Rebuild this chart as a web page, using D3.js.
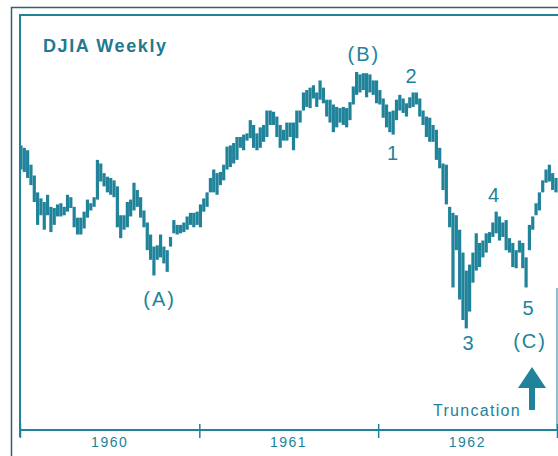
<!DOCTYPE html>
<html>
<head>
<meta charset="utf-8">
<script src="https://cdn.jsdelivr.net/npm/d3@7"></script>
<style>
body { margin: 0; background: #fff; }
svg { display: block; }
</style>
</head>
<body>
<div id="content"></div>
<script>
const w = 558
const h = 456

// weekly DJIA high / low (points)
const highs = [674,672,670,658,649,635,630,627,633,623,622,625,626,623,633,631,623,614,614,619,
  629,626,631,662,659,651,648,647,645,640,616,616,627,629,643,637,631,620,610,600,
  590,591,600,590,587,598,612,608,608,610,615,618,618,619,625,630,635,647,654,651,
  652,658,673,674,676,681,681,683,684,695,691,684,689,691,703,703,702,698,691,687,
  693,693,693,703,703,718,720,722,724,718,728,722,712,712,708,706,705,706,705,710,
  723,735,733,734,734,733,728,728,720,713,708,702,703,712,716,713,709,714,718,718,
  713,703,698,697,691,687,672,659,658,623,618,616,604,585,570,575,585,601,593,595,
  601,602,610,619,615,610,612,597,593,587,595,593,581,608,615,626,635,645,654,658,
  651,647]
const lows = [654,652,647,641,627,608,616,604,616,602,608,615,615,616,619,622,606,600,600,605,
  614,620,623,629,644,640,635,633,631,606,597,604,606,615,620,623,614,606,587,579,
  566,579,581,576,569,590,601,600,601,602,604,608,606,608,606,619,623,635,635,633,
  641,645,654,656,659,662,672,670,678,680,672,670,672,677,681,691,691,681,672,678,
  678,681,670,680,693,703,706,705,713,706,712,709,698,693,685,689,693,691,689,695,
  708,716,718,720,714,718,716,709,708,697,689,685,683,695,703,701,698,705,706,708,
  698,691,681,677,677,662,655,637,625,606,556,587,546,529,522,536,560,570,573,581,
  585,593,598,601,595,598,587,585,573,572,585,572,556,587,604,616,620,635,643,644,
  637,635]

const years = ["1960", "1961", "1962"]
const yearEdges = [1960, 1961, 1962, 1963]

// wave count labels: week index and price level of the label baseline
const waveLabels = ["(A)", "(B)", "1", "2", "3", "4", "5", "(C)"]
const waveWeeks = [41.7, 103.2, 112.1, 117.7, 134.8, 142.5, 152.9, 153.2]
const waveLevels = [541, 744, 662, 726, 504, 627, 533, 506]

const teal = "#21839a"
const font = "'Liberation Sans', Arial, Helvetica, sans-serif"

let svg = d3.select("#content")
  .append("svg")
  .attr("width", w)
  .attr("height", h)

// frame
svg.append("path")
  .attr("d", "M11.5," + h + "V7.5H" + w)
  .attr("fill", "none")
  .attr("stroke", "#345f69")
  .attr("stroke-width", 1.5)
svg.append("path")
  .attr("d", "M20,437V15H" + w)
  .attr("fill", "none")
  .attr("stroke", teal)
  .attr("stroke-width", 2)
svg.append("line")
  .attr("x1", 557).attr("x2", 557)
  .attr("y1", 288).attr("y2", 430)
  .attr("stroke", teal)
  .attr("stroke-width", 1)

x = d3.scaleLinear()
  .domain([0, highs.length - 1])
  .range([21, 556])
y = d3.scaleLinear()
  .domain([524, 735])
  .range([326, 72])

t = d3.scaleTime()
  .domain([new Date(1960, 0, 1), new Date(1963, 0, 1)])
  .range([20, 557])

// bars
svg.selectAll("rect.bar")
  .data(highs)
  .enter()
  .append("rect")
    .attr("class", "bar")
    .attr("x", (d, i) => x(i) - 1.6)
    .attr("y", (d) => y(d))
    .attr("width", 3.2)
    .attr("height", (d, i) => y(lows[i]) - y(d))
    .attr("fill", teal)

// axis
svg.append("line")
  .attr("x1", 20).attr("x2", w)
  .attr("y1", 430).attr("y2", 430)
  .attr("stroke", teal)
  .attr("stroke-width", 2)

let ax = svg.append("g")
  .attr("transform", "translate(0,424)")
  .call(d3.axisBottom(t)
    .tickValues(yearEdges.map((yr) => new Date(yr, 0, 1)))
    .tickSize(14)
    .tickFormat(""))
ax.select(".domain").remove()
ax.selectAll("line").attr("stroke", teal).attr("stroke-width", 1.5)

let lab = svg.append("g")
  .attr("transform", "translate(0,434)")
  .call(d3.axisBottom(t)
    .tickValues(years.map((yr) => new Date(+yr, 6, 1)))
    .tickSize(0)
    .tickFormat((d) => d.getFullYear()))
lab.select(".domain").remove()
lab.selectAll("text")
  .attr("fill", teal)
  .attr("font-family", font)
  .attr("font-size", 14)
  .attr("letter-spacing", 1.5)

// title
svg.append("text")
  .attr("x", 43)
  .attr("y", 52)
  .attr("fill", "#23798f")
  .attr("font-family", font)
  .attr("font-weight", "bold")
  .attr("font-size", 18)
  .attr("letter-spacing", 1.6)
  .text("DJIA Weekly")

// wave labels
svg.selectAll("text.wave")
  .data(waveLabels)
  .enter()
  .append("text")
    .attr("class", "wave")
    .attr("x", (d, i) => x(waveWeeks[i]))
    .attr("y", (d, i) => y(waveLevels[i]))
    .attr("text-anchor", "middle")
    .attr("fill", teal)
    .attr("font-family", font)
    .attr("font-size", 20)
    .attr("letter-spacing", 2)
    .text((d) => d)

// truncation note
svg.append("text")
  .attr("x", 433)
  .attr("y", 416)
  .attr("fill", teal)
  .attr("font-family", font)
  .attr("font-size", 16)
  .attr("letter-spacing", 1.3)
  .text("Truncation")

svg.append("path")
  .attr("d", "M532,367L546,388H535V410H529V388H518Z")
  .attr("fill", teal)
</script>
</body>
</html>
